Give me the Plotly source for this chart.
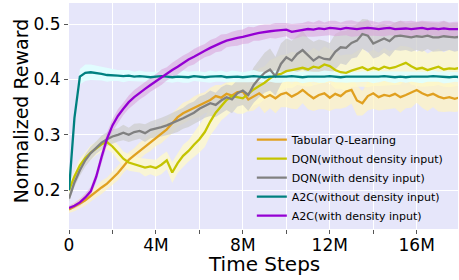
import numpy as np
import plotly.graph_objects as go

# time steps in millions (sampling grid every 0.25M)
steps_m = np.arange(0, 18.01, 0.25)

tabular = [0.165, 0.170, 0.176, 0.182, 0.190, 0.197, 0.205, 0.212,
           0.222, 0.231, 0.243, 0.255, 0.263, 0.271, 0.279, 0.287,
           0.295, 0.302, 0.310, 0.321, 0.332, 0.339, 0.344, 0.349,
           0.353, 0.358, 0.363, 0.370, 0.367, 0.374, 0.371, 0.377,
           0.378, 0.364, 0.370, 0.375, 0.367, 0.372, 0.366, 0.373,
           0.376, 0.369, 0.374, 0.381, 0.373, 0.366, 0.372, 0.375,
           0.367, 0.374, 0.370, 0.378, 0.381, 0.362, 0.357, 0.370,
           0.375, 0.368, 0.372, 0.370, 0.374, 0.368, 0.372, 0.376,
           0.381, 0.375, 0.371, 0.374, 0.369, 0.366, 0.368, 0.365,
           0.368]
tabular_sd = [0.006, 0.008, 0.009, 0.010, 0.011, 0.010, 0.012, 0.011,
              0.012, 0.013, 0.012, 0.014, 0.013, 0.015, 0.014, 0.016,
              0.015, 0.017, 0.016, 0.018, 0.017, 0.019, 0.018, 0.020,
              0.021, 0.019, 0.022, 0.020, 0.023, 0.021, 0.024, 0.022,
              0.025, 0.022, 0.026, 0.023, 0.028, 0.024, 0.027, 0.023,
              0.026, 0.022, 0.028, 0.024, 0.027, 0.023, 0.026, 0.029,
              0.024, 0.027, 0.023, 0.028, 0.025, 0.027, 0.022, 0.026,
              0.028, 0.024, 0.027, 0.023, 0.026, 0.028, 0.024, 0.027,
              0.023, 0.026, 0.028, 0.024, 0.027, 0.025, 0.026, 0.024,
              0.025]

dqn_plain = [0.200, 0.225, 0.245, 0.258, 0.268, 0.275, 0.283, 0.287,
             0.279, 0.268, 0.257, 0.250, 0.247, 0.245, 0.241, 0.243,
             0.240, 0.246, 0.254, 0.232, 0.249, 0.262, 0.271, 0.282,
             0.292, 0.305, 0.324, 0.340, 0.352, 0.363, 0.370, 0.368,
             0.366, 0.374, 0.382, 0.388, 0.394, 0.402, 0.408, 0.410,
             0.415, 0.417, 0.419, 0.421, 0.418, 0.423, 0.421, 0.427,
             0.424, 0.417, 0.413, 0.412, 0.416, 0.419, 0.422, 0.417,
             0.421, 0.418, 0.423, 0.420, 0.422, 0.426, 0.430, 0.424,
             0.419, 0.421, 0.417, 0.420, 0.423, 0.418, 0.420, 0.419,
             0.421]
dqn_plain_sd = [0.008, 0.010, 0.012, 0.011, 0.013, 0.012, 0.014, 0.013,
                0.012, 0.014, 0.013, 0.015, 0.014, 0.013, 0.016, 0.014,
                0.015, 0.017, 0.016, 0.019, 0.018, 0.020, 0.019, 0.022,
                0.024, 0.027, 0.025, 0.028, 0.026, 0.029, 0.027, 0.030,
                0.028, 0.031, 0.029, 0.032, 0.030, 0.033, 0.031, 0.034,
                0.030, 0.033, 0.029, 0.032, 0.031, 0.034, 0.030, 0.033,
                0.031, 0.034, 0.030, 0.033, 0.029, 0.032, 0.035, 0.031,
                0.033, 0.030, 0.034, 0.031, 0.032, 0.035, 0.030, 0.033,
                0.031, 0.034, 0.030, 0.032, 0.033, 0.031, 0.034, 0.032,
                0.032]

dqn_density = [0.185, 0.214, 0.236, 0.254, 0.267, 0.277, 0.286, 0.292,
               0.297, 0.300, 0.304, 0.300, 0.305, 0.307, 0.303, 0.309,
               0.311, 0.314, 0.317, 0.321, 0.325, 0.330, 0.335, 0.340,
               0.347, 0.352, 0.357, 0.354, 0.362, 0.368, 0.364, 0.375,
               0.380, 0.372, 0.390, 0.402, 0.412, 0.418, 0.406, 0.428,
               0.440, 0.434, 0.446, 0.453, 0.443, 0.434, 0.441, 0.437,
               0.436, 0.450, 0.458, 0.457, 0.466, 0.470, 0.482, 0.479,
               0.465, 0.470, 0.474, 0.469, 0.478, 0.479, 0.477, 0.476,
               0.478, 0.477, 0.479, 0.476, 0.476, 0.478, 0.477, 0.476,
               0.477]
dqn_density_sd = [0.006, 0.008, 0.010, 0.011, 0.012, 0.011, 0.013, 0.012,
                  0.013, 0.012, 0.014, 0.013, 0.015, 0.014, 0.016, 0.015,
                  0.016, 0.017, 0.018, 0.019, 0.020, 0.019, 0.021, 0.020,
                  0.022, 0.021, 0.023, 0.022, 0.024, 0.023, 0.025, 0.024,
                  0.026, 0.029, 0.032, 0.034, 0.036, 0.038, 0.035, 0.037,
                  0.034, 0.036, 0.033, 0.035, 0.032, 0.034, 0.031, 0.033,
                  0.030, 0.032, 0.029, 0.031, 0.028, 0.030, 0.027, 0.029,
                  0.027, 0.029, 0.026, 0.028, 0.025, 0.027, 0.024, 0.026,
                  0.025, 0.027, 0.024, 0.026, 0.025, 0.027, 0.024, 0.026,
                  0.025]

a2c_plain = [0.200, 0.330, 0.405, 0.412, 0.413, 0.412, 0.410, 0.408,
             0.408, 0.407, 0.406, 0.407, 0.405, 0.406, 0.405, 0.404,
             0.405, 0.406, 0.405, 0.404, 0.405, 0.405, 0.404, 0.406,
             0.405, 0.404, 0.405, 0.405, 0.406, 0.404, 0.405, 0.405,
             0.404, 0.405, 0.406, 0.405, 0.404, 0.405, 0.405, 0.404,
             0.405, 0.406, 0.405, 0.404, 0.405, 0.405, 0.404, 0.405,
             0.406, 0.405, 0.404, 0.405, 0.405, 0.404, 0.405, 0.405,
             0.404, 0.405, 0.406, 0.405, 0.404, 0.405, 0.404, 0.405,
             0.405, 0.404, 0.405, 0.406, 0.405, 0.404, 0.404, 0.405,
             0.404]
a2c_plain_sd = [0.004, 0.010, 0.014, 0.015, 0.014, 0.013, 0.012, 0.012,
                0.011, 0.010, 0.011, 0.010, 0.009, 0.010, 0.009, 0.010,
                0.009, 0.011, 0.009, 0.010, 0.009, 0.011, 0.010, 0.009,
                0.010, 0.009, 0.011, 0.009, 0.010, 0.009, 0.011, 0.010,
                0.009, 0.010, 0.011, 0.009, 0.010, 0.009, 0.011, 0.010,
                0.009, 0.010, 0.009, 0.011, 0.010, 0.009, 0.010, 0.011,
                0.009, 0.010, 0.009, 0.011, 0.010, 0.009, 0.010, 0.009,
                0.011, 0.010, 0.009, 0.010, 0.011, 0.009, 0.010, 0.009,
                0.010, 0.011, 0.009, 0.010, 0.009, 0.011, 0.010, 0.009,
                0.009]

a2c_density = [0.168, 0.172, 0.178, 0.187, 0.198, 0.224, 0.260, 0.293,
               0.317, 0.334, 0.347, 0.359, 0.368, 0.376, 0.383, 0.390,
               0.397, 0.404, 0.410, 0.417, 0.423, 0.430, 0.436, 0.441,
               0.447, 0.452, 0.457, 0.462, 0.466, 0.470, 0.473, 0.475,
               0.477, 0.480, 0.482, 0.484, 0.486, 0.487, 0.488, 0.489,
               0.490, 0.486, 0.488, 0.490, 0.491, 0.490, 0.492, 0.491,
               0.493, 0.492, 0.491, 0.493, 0.492, 0.491, 0.492, 0.493,
               0.492, 0.491, 0.492, 0.493, 0.491, 0.492, 0.492, 0.491,
               0.492, 0.493, 0.491, 0.492, 0.491, 0.492, 0.491, 0.491,
               0.491]
a2c_density_sd = [0.004, 0.005, 0.006, 0.007, 0.008, 0.009, 0.010, 0.011,
                  0.011, 0.012, 0.011, 0.012, 0.013, 0.012, 0.013, 0.012,
                  0.013, 0.014, 0.012, 0.013, 0.014, 0.013, 0.012, 0.014,
                  0.013, 0.012, 0.014, 0.013, 0.015, 0.012, 0.013, 0.014,
                  0.013, 0.015, 0.012, 0.014, 0.013, 0.012, 0.014, 0.013,
                  0.012, 0.014, 0.013, 0.012, 0.014, 0.013, 0.015, 0.012,
                  0.013, 0.014, 0.012, 0.013, 0.015, 0.013, 0.012, 0.014,
                  0.013, 0.012, 0.014, 0.013, 0.012, 0.014, 0.013, 0.015,
                  0.012, 0.013, 0.014, 0.012, 0.013, 0.014, 0.012, 0.013,
                  0.013]

names = ["Tabular Q-Learning", "DQN(without density input)", "DQN(with density input)",
         "A2C(without density input)", "A2C(with density input)"]
means = [tabular, dqn_plain, dqn_density, a2c_plain, a2c_density]
spreads = [tabular_sd, dqn_plain_sd, dqn_density_sd, a2c_plain_sd, a2c_density_sd]
line_colors = ["#e0a020", "#c4c400", "#808080", "#008080", "#9400d3"]
band_colors = ["rgba(255,243,190,0.70)", "rgba(255,250,200,0.75)", "rgba(205,205,205,0.75)",
               "rgba(224,255,255,0.90)", "rgba(216,160,216,0.55)"]

x_tick_vals = [0, 2, 4, 6, 8, 10, 12, 14, 16]
x_tick_text = ["0", "", "4M", "", "8M", "", "12M", "", "16M"]
y_tick_vals = [0.2, 0.3, 0.4, 0.5]
y_tick_text = ["0.2", "0.3", "0.4", "0.5"]
x_title = "Time Steps"
y_title = "Normalized Reward"

fig = go.Figure()
xs = list(steps_m)
for m, s, bc in zip(means, spreads, band_colors):
    m = np.array(m); s = np.array(s)
    upper = m + s
    lower = m - s
    fig.add_trace(go.Scatter(x=xs + xs[::-1], y=list(upper) + list(lower[::-1]),
                             fill="toself", fillcolor=bc, line=dict(width=0),
                             mode="lines", hoverinfo="skip", showlegend=False))
for m, n, lc in zip(means, names, line_colors):
    fig.add_trace(go.Scatter(x=xs, y=m, mode="lines", name=n,
                             line=dict(color=lc, width=2.3)))

fig.update_layout(
    width=459, height=280,
    margin=dict(l=69, r=1, t=3, b=51, autoexpand=False),
    paper_bgcolor="white", plot_bgcolor="#e6e6fa",
    font=dict(family="DejaVu Sans", color="black"),
    legend=dict(x=0.47, y=0.46, xanchor="left", yanchor="top",
                bgcolor="rgba(0,0,0,0)", font=dict(size=11), tracegroupgap=0),
    showlegend=True,
    annotations=[
        dict(text=x_title, xref="paper", yref="paper", x=0.5, y=-0.155,
             xanchor="center", yanchor="middle", showarrow=False,
             font=dict(size=20, family="DejaVu Sans", color="black")),
        dict(text=y_title, xref="paper", yref="paper", x=-0.124, y=0.524,
             xanchor="center", yanchor="middle", showarrow=False, textangle=-90,
             font=dict(size=19, family="DejaVu Sans", color="black")),
    ],
)
fig.update_xaxes(range=[0, 17.9], tickvals=x_tick_vals, ticktext=x_tick_text,
                 showgrid=True, gridcolor="white", gridwidth=1, zeroline=False,
                 ticks="outside", ticklen=4, tickcolor="#555", automargin=False,
                 tickfont=dict(size=17), ticklabelstandoff=-3)
fig.update_yaxes(range=[0.13, 0.538], tickvals=y_tick_vals, ticktext=y_tick_text,
                 showgrid=True, gridcolor="white", gridwidth=1, zeroline=False,
                 ticks="outside", ticklen=4, tickcolor="#555", automargin=False,
                 tickfont=dict(size=17))

fig.write_html("out.html", post_script="document.body.style.margin='0';",
               config={"displayModeBar": False})
